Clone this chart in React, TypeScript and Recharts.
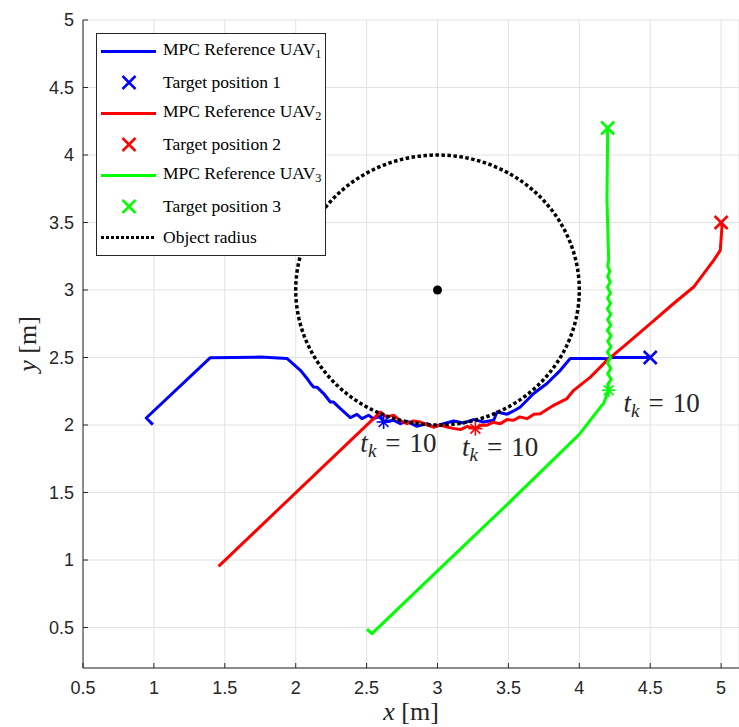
import React from 'react';
import { ScatterChart, Scatter, XAxis, YAxis, CartesianGrid } from 'recharts';

// ---------- data ----------
const xTicks = [0.5, 1, 1.5, 2, 2.5, 3, 3.5, 4, 4.5, 5];
const yTicks = [0.5, 1, 1.5, 2, 2.5, 3, 3.5, 4, 4.5, 5];
const xDomain = [0.5, 5.126];
const yDomain = [0.2, 5];

const uav1Path = [
  { x: 0.993, y: 2.003 }, { x: 0.946, y: 2.052 }, { x: 1.398, y: 2.499 }, { x: 1.75, y: 2.503 },
  { x: 1.94, y: 2.492 }, { x: 2.033, y: 2.405 }, { x: 2.08, y: 2.345 }, { x: 2.103, y: 2.31 },
  { x: 2.126, y: 2.282 }, { x: 2.15, y: 2.28 }, { x: 2.197, y: 2.233 }, { x: 2.244, y: 2.17 },
  { x: 2.267, y: 2.17 }, { x: 2.315, y: 2.121 }, { x: 2.385, y: 2.055 }, { x: 2.432, y: 2.079 },
  { x: 2.467, y: 2.047 }, { x: 2.514, y: 2.072 }, { x: 2.549, y: 2.047 }, { x: 2.597, y: 2.064 },
  { x: 2.62, y: 2.022 }, { x: 2.69, y: 2.035 }, { x: 2.738, y: 2.01 }, { x: 2.785, y: 2.027 },
  { x: 2.855, y: 1.99 }, { x: 2.926, y: 2.01 }, { x: 2.973, y: 1.985 }, { x: 3.043, y: 2.01 },
  { x: 3.114, y: 2.03 }, { x: 3.184, y: 2.015 }, { x: 3.255, y: 2.04 }, { x: 3.325, y: 2.022 },
  { x: 3.396, y: 2.035 }, { x: 3.42, y: 2.096 }, { x: 3.49, y: 2.08 }, { x: 3.537, y: 2.104 },
  { x: 3.584, y: 2.133 }, { x: 3.678, y: 2.233 }, { x: 3.772, y: 2.307 }, { x: 3.866, y: 2.405 },
  { x: 3.936, y: 2.492 }, { x: 4.149, y: 2.492 }, { x: 4.195, y: 2.49 }, { x: 4.23, y: 2.5 },
  { x: 4.5, y: 2.5 },
];

const uav2Path = [
  { x: 1.456, y: 0.953 }, { x: 2.597, y: 2.096 }, { x: 2.64, y: 2.06 }, { x: 2.69, y: 2.072 },
  { x: 2.74, y: 2.03 }, { x: 2.785, y: 2.01 }, { x: 2.83, y: 2.03 }, { x: 2.879, y: 2.022 },
  { x: 2.93, y: 2.0 }, { x: 2.973, y: 1.985 }, { x: 3.02, y: 2.0 }, { x: 3.067, y: 1.985 },
  { x: 3.11, y: 1.975 }, { x: 3.161, y: 1.966 }, { x: 3.21, y: 1.99 }, { x: 3.267, y: 1.973 },
  { x: 3.31, y: 2.0 }, { x: 3.349, y: 1.998 }, { x: 3.39, y: 2.02 }, { x: 3.443, y: 2.01 },
  { x: 3.49, y: 2.04 }, { x: 3.537, y: 2.035 }, { x: 3.58, y: 2.06 }, { x: 3.631, y: 2.047 },
  { x: 3.68, y: 2.08 }, { x: 3.725, y: 2.084 }, { x: 3.819, y: 2.146 }, { x: 3.913, y: 2.196 },
  { x: 3.96, y: 2.257 }, { x: 4.078, y: 2.355 }, { x: 4.195, y: 2.479 }, { x: 4.336, y: 2.603 },
  { x: 4.501, y: 2.751 }, { x: 4.665, y: 2.9 }, { x: 4.806, y: 3.022 }, { x: 4.947, y: 3.22 },
  { x: 4.994, y: 3.294 }, { x: 5.006, y: 3.467 }, { x: 5.0, y: 3.5 },
];

const uav3Path = [
  { x: 2.503, y: 0.487 }, { x: 2.538, y: 0.455 }, { x: 3.0, y: 0.92 }, { x: 3.5, y: 1.42 },
  { x: 4.0, y: 1.93 }, { x: 4.149, y: 2.133 }, { x: 4.171, y: 2.159 }, { x: 4.207, y: 2.257 },
  { x: 4.2, y: 2.3 }, { x: 4.225, y: 2.34 },
  { x: 4.2, y: 2.38 }, { x: 4.222, y: 2.42 }, { x: 4.198, y: 2.46 }, { x: 4.222, y: 2.5 },
  { x: 4.198, y: 2.54 }, { x: 4.224, y: 2.58 }, { x: 4.2, y: 2.62 }, { x: 4.224, y: 2.66 },
  { x: 4.198, y: 2.7 }, { x: 4.222, y: 2.74 }, { x: 4.2, y: 2.78 }, { x: 4.222, y: 2.82 },
  { x: 4.198, y: 2.86 }, { x: 4.22, y: 2.9 }, { x: 4.2, y: 2.94 }, { x: 4.22, y: 2.98 },
  { x: 4.198, y: 3.02 }, { x: 4.218, y: 3.06 }, { x: 4.2, y: 3.1 }, { x: 4.215, y: 3.14 },
  { x: 4.2, y: 3.18 }, { x: 4.207, y: 3.22 }, { x: 4.195, y: 3.664 }, { x: 4.2, y: 4.2 },
];

const target1 = [{ x: 4.5, y: 2.5 }];
const target2 = [{ x: 5.0, y: 3.5 }];
const target3 = [{ x: 4.2, y: 4.2 }];

const step1 = [{ x: 2.62, y: 2.022 }];
const step2 = [{ x: 3.267, y: 1.973 }];
const step3 = [{ x: 4.207, y: 2.257 }];

const annotations = [
  { x: 2.456, y: 1.798, value: '10' },
  { x: 3.173, y: 1.77, value: '10' },
  { x: 4.312, y: 2.094, value: '10' },
];

const objectCenter = [{ x: 3, y: 3 }];
const objectRadius = 1;
const circleSteps = 144;
const objectCircle = Array.from({ length: circleSteps + 1 }, (_, i) => {
  const a = (i / circleSteps) * 2 * Math.PI;
  return { x: objectCenter[0].x + objectRadius * Math.cos(a), y: objectCenter[0].y + objectRadius * Math.sin(a) };
});

const legendItems = [
  { kind: 'line', color: '#0000ff', label: 'MPC Reference UAV', sub: '1' },
  { kind: 'x', color: '#0000ff', label: 'Target position 1', sub: '' },
  { kind: 'line', color: '#ff0000', label: 'MPC Reference UAV', sub: '2' },
  { kind: 'x', color: '#ff0000', label: 'Target position 2', sub: '' },
  { kind: 'line', color: '#00ff00', label: 'MPC Reference UAV', sub: '3' },
  { kind: 'x', color: '#00ff00', label: 'Target position 3', sub: '' },
  { kind: 'dot', color: '#000000', label: 'Object radius', sub: '' },
];

// ---------- styles ----------
const AXIS = '#262626';
const SANS = '"Liberation Sans", Arial, sans-serif';
const SERIF = '"Liberation Serif", "DejaVu Serif", serif';
const MATH_SIZE = 27;
const LEGEND_SIZE = 17.5;

// ---------- shapes ----------
const Empty = () => <g />;

const XMark = ({ cx, cy, color }: any) => {
  const s = 6.5;
  return (
    <g stroke={color} strokeWidth={2.5} strokeLinecap="butt">
      <line x1={cx - s} y1={cy - s} x2={cx + s} y2={cy + s} />
      <line x1={cx - s} y1={cy + s} x2={cx + s} y2={cy - s} />
    </g>
  );
};

const Star = ({ cx, cy, color }: any) => {
  const r = 7;
  const d = r * Math.SQRT1_2;
  return (
    <g stroke={color} strokeWidth={1.6}>
      <line x1={cx - r} y1={cy} x2={cx + r} y2={cy} />
      <line x1={cx} y1={cy - r} x2={cx} y2={cy + r} />
      <line x1={cx - d} y1={cy - d} x2={cx + d} y2={cy + d} />
      <line x1={cx - d} y1={cy + d} x2={cx + d} y2={cy - d} />
    </g>
  );
};

const Dot = ({ cx, cy }: any) => <circle cx={cx} cy={cy} r={4.5} fill="#000" />;

const Annotation = ({ cx, cy, payload }: any) => (
  <text x={cx} y={cy} fontFamily={SERIF} fontSize={MATH_SIZE} fill={AXIS}>
    <tspan fontStyle="italic">t</tspan>
    <tspan fontStyle="italic" fontSize={MATH_SIZE * 0.7} dy={5}>k</tspan>
    <tspan dy={-5} dx={9}>=</tspan>
    <tspan dx={9}>{payload.value}</tspan>
  </text>
);

// ---------- ticks ----------
const BottomTick = ({ x, y, payload }: any) => (
  <g>
    <line x1={x} y1={y} x2={x} y2={y - 5} stroke={AXIS} />
    <text x={x} y={y + 20} textAnchor="middle" dominantBaseline="central" fontFamily={SANS} fontSize={18} fill={AXIS}>
      {payload.value}
    </text>
  </g>
);

const TopTick = ({ x, y }: any) => <line x1={x} y1={y} x2={x} y2={y + 5} stroke={AXIS} />;

const LeftTick = ({ x, y, payload }: any) => (
  <g>
    <line x1={x} y1={y} x2={x + 5} y2={y} stroke={AXIS} />
    <text x={x - 9} y={y} textAnchor="end" dominantBaseline="central" fontFamily={SANS} fontSize={18} fill={AXIS}>
      {payload.value}
    </text>
  </g>
);

const XTitle = ({ viewBox }: any) => (
  <text x={viewBox.x + viewBox.width / 2} y={viewBox.y + 52} textAnchor="middle" fontFamily={SERIF} fontSize={26} fill={AXIS}>
    <tspan fontStyle="italic">x</tspan>
    <tspan> [m]</tspan>
  </text>
);

const YTitle = ({ viewBox }: any) => {
  const cx = viewBox.x + 36;
  const cy = viewBox.y + viewBox.height / 2;
  return (
    <text x={cx} y={cy} transform={`rotate(-90 ${cx} ${cy})`} textAnchor="middle" fontFamily={SERIF} fontSize={26} fill={AXIS}>
      <tspan fontStyle="italic">y</tspan>
      <tspan> [m]</tspan>
    </text>
  );
};

// ---------- legend ----------
const LegendBox = () => (
  <div
    style={{
      position: 'absolute', left: 96, top: 33, background: '#fff', border: `1px solid ${AXIS}`,
      padding: '2px 4px 2px 0', fontFamily: SERIF, fontSize: LEGEND_SIZE, color: '#000',
    }}
  >
    {legendItems.map((it, i) => (
      <div key={i} style={{ display: 'flex', alignItems: 'center', height: 31, whiteSpace: 'nowrap' }}>
        <svg width={55} height={31} style={{ marginLeft: 4, marginRight: 7, flex: 'none' }}>
          {it.kind === 'line' && <line x1={0} y1={15.5} x2={55} y2={15.5} stroke={it.color} strokeWidth={3} />}
          {it.kind === 'x' && <XMark cx={28} cy={15.5} color={it.color} />}
          {it.kind === 'dot' && <line x1={0} y1={15.5} x2={55} y2={15.5} stroke={it.color} strokeWidth={3} strokeDasharray="3 2" />}
        </svg>
        <span style={{ lineHeight: '31px' }}>
          {it.label}
          {it.sub && <sub style={{ fontSize: LEGEND_SIZE * 0.7, verticalAlign: '-3px' }}>{it.sub}</sub>}
        </span>
      </div>
    ))}
  </div>
);

export default function App() {
  return (
    <div style={{ position: 'fixed', left: 0, top: 0, width: 739, height: 727, overflow: 'hidden', background: '#fff' }}>
      <ScatterChart width={739} height={727} margin={{ top: 20, right: 0, bottom: 0, left: 0 }}>
        <CartesianGrid stroke="#e2e2e2" strokeWidth={1} />
        <XAxis
          type="number" dataKey="x" domain={xDomain} ticks={xTicks} height={59} allowDataOverflow
          axisLine={{ stroke: AXIS }} tickLine={false} tickSize={0} tickMargin={0} tick={<BottomTick />}
          label={<XTitle />}
        />
        <XAxis
          xAxisId="top" orientation="top" type="number" dataKey="x" domain={xDomain} ticks={xTicks} height={0}
          allowDataOverflow axisLine={{ stroke: AXIS }} tickLine={false} tickSize={0} tickMargin={0} tick={<TopTick />}
        />
        <YAxis
          type="number" dataKey="y" domain={yDomain} ticks={yTicks} width={83} allowDataOverflow
          axisLine={{ stroke: AXIS }} tickLine={false} tickSize={0} tickMargin={0} tick={<LeftTick />}
          label={<YTitle />}
        />
        <Scatter data={uav1Path} line={{ stroke: '#0000ff', strokeWidth: 3, strokeLinejoin: 'round' }} shape={<Empty />} isAnimationActive={false} />
        <Scatter data={target1} shape={<XMark color="#0000ff" />} isAnimationActive={false} />
        <Scatter data={uav2Path} line={{ stroke: '#ff0000', strokeWidth: 3, strokeLinejoin: 'round' }} shape={<Empty />} isAnimationActive={false} />
        <Scatter data={target2} shape={<XMark color="#ff0000" />} isAnimationActive={false} />
        <Scatter data={uav3Path} line={{ stroke: '#00ff00', strokeWidth: 3, strokeLinejoin: 'round' }} shape={<Empty />} isAnimationActive={false} />
        <Scatter data={target3} shape={<XMark color="#00ff00" />} isAnimationActive={false} />
        <Scatter data={objectCircle} line={{ stroke: '#000', strokeWidth: 3.5, strokeDasharray: '3.5 2.5' }} shape={<Empty />} isAnimationActive={false} />
        <Scatter data={objectCenter} shape={<Dot />} isAnimationActive={false} />
        <Scatter data={step1} shape={<Star color="#0000ff" />} isAnimationActive={false} />
        <Scatter data={step2} shape={<Star color="#ff0000" />} isAnimationActive={false} />
        <Scatter data={step3} shape={<Star color="#00ff00" />} isAnimationActive={false} />
        <Scatter data={annotations} shape={<Annotation />} isAnimationActive={false} />
      </ScatterChart>
      <LegendBox />
    </div>
  );
}
